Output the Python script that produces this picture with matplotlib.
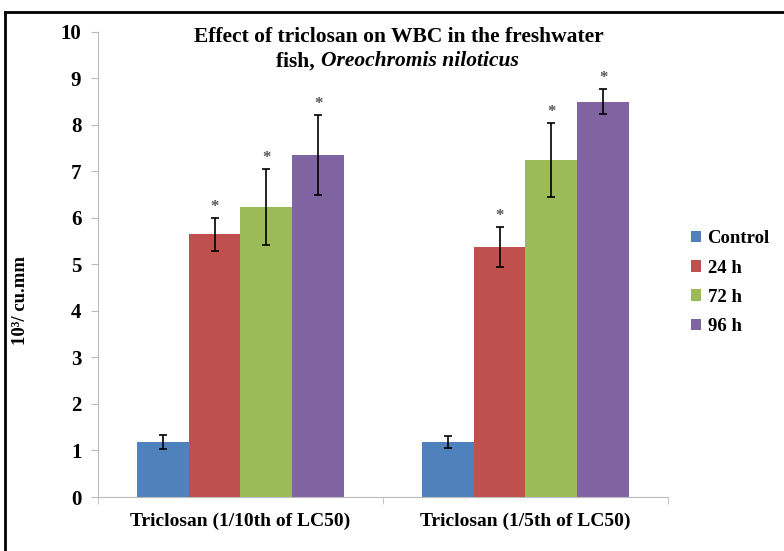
import numpy as np
import matplotlib.pyplot as plt
from matplotlib.lines import Line2D

# data
groups = ["Triclosan (1/10th of LC50)", "Triclosan (1/5th of LC50)"]
series = ["Control", "24 h", "72 h", "96 h"]
control = [1.18, 1.18]
h24 = [5.65, 5.38]
h72 = [6.24, 7.25]
h96 = [7.36, 8.50]
err_control = [0.15, 0.13]
err_24 = [0.36, 0.43]
err_72 = [0.82, 0.79]
err_96 = [0.86, 0.27]
stars = [False, True, True, True]

colors = ["#4F81BD", "#C0504D", "#9BBB59", "#8064A2"]
serif = "Liberation Serif"

fig = plt.figure(figsize=(7.84, 5.51), dpi=100)
ax = fig.add_axes([0.125, 0.098, 0.727, 0.844])

x = np.arange(len(groups))
w = 0.182
vals = [control, h24, h72, h96]
errs = [err_control, err_24, err_72, err_96]
for i in range(len(series)):
    pos = x + (i - 1.5) * w
    ax.bar(pos, vals[i], w, color=colors[i], label=series[i], zorder=2)
    ax.errorbar(pos, vals[i], yerr=errs[i], fmt="none", ecolor="black",
                elinewidth=1.2, capsize=3, capthick=1.2, zorder=3)
    if stars[i]:
        for p, v, e in zip(pos, vals[i], errs[i]):
            ax.annotate("*", (p, v + e), xytext=(0, 2), textcoords="offset points",
                        ha="center", va="bottom", fontsize=12, color="#555555",
                        family=serif, fontweight="bold")

ax.set_xlim(-0.5, 1.5)
ax.set_ylim(0, 10)
ax.set_yticks(range(0, 11))
ax.set_xticks(x)
ax.set_xticklabels(groups, family=serif, fontweight="bold", fontsize=14)
ax.set_xticks([-0.5, 0.5, 1.5], minor=True)
ax.tick_params(axis="x", which="major", length=0, pad=11)
ax.tick_params(axis="x", which="minor", length=5, color="#BBBBBB")
ax.tick_params(axis="y", length=5, color="#BBBBBB", pad=7)
for lab in ax.get_yticklabels():
    lab.set_family(serif)
    lab.set_fontweight("bold")
    lab.set_fontsize(15)
for s in ["top", "right"]:
    ax.spines[s].set_visible(False)
ax.spines["left"].set_color("#BBBBBB")
ax.spines["bottom"].set_color("#BBBBBB")

fig.text(0.026, 0.455, "10³/ cu.mm", rotation=90, ha="center", va="center",
         family=serif, fontweight="bold", fontsize=13.5)

# title, second line has italic species name
fig.text(0.509, 0.933, "Effect of triclosan on WBC in the freshwater",
         ha="center", va="center", family=serif, fontweight="bold", fontsize=15.5)
t1 = fig.text(0, 0.889, "fish, ", ha="left", va="center",
              family=serif, fontweight="bold", fontsize=15.5)
t2 = fig.text(0, 0.889, "Oreochromis niloticus", ha="left", va="center",
              family=serif, fontweight="bold", fontstyle="italic", fontsize=15.5)
r = fig.canvas.get_renderer()
w1 = t1.get_window_extent(r).width / fig.bbox.width
w2 = t2.get_window_extent(r).width / fig.bbox.width
x0 = 0.507 - (w1 + w2) / 2
t1.set_x(x0)
t2.set_x(x0 + w1)

ax.legend(loc="center left", bbox_to_anchor=(0.881, 0.487), bbox_transform=fig.transFigure,
          frameon=False, borderpad=0, borderaxespad=0,
          handlelength=0.55, handleheight=0.55, handletextpad=0.35,
          labelspacing=0.65, prop={"family": serif, "weight": "bold", "size": 13.5})

# frame lines of the original picture (left and top only)
fig.add_artist(Line2D([0.007, 0.007], [0, 0.979], color="black", lw=2,
                      transform=fig.transFigure))
fig.add_artist(Line2D([0.007, 1.0], [0.979, 0.979], color="black", lw=2,
                      transform=fig.transFigure))

fig.savefig("out.png", dpi=100)
